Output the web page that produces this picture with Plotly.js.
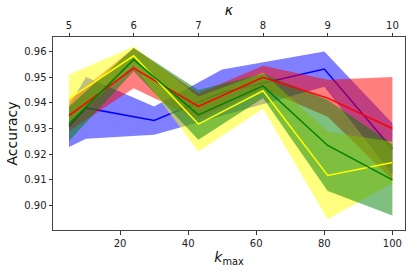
<!DOCTYPE html>
<html>
<head>
<meta charset="utf-8">
<script src="https://cdn.plot.ly/plotly-3.0.1.min.js"></script>
<style>html,body{margin:0;padding:0;background:#fff;}#chart{width:416px;height:271px;}</style>
</head>
<body>
<div id="chart"></div>
<script>
// k_max positions
const kmaxMain = [5, 24, 43, 62, 81, 100];
const kmaxBlue = [5, 10, 30, 50, 80, 100];
const kappaTicks = [5, 6, 7, 8, 9, 10];
const kmaxTicks = [20, 40, 60, 80, 100];
const accTicks = [0.90, 0.91, 0.92, 0.93, 0.94, 0.95, 0.96];

const blueMean = [0.9308, 0.9380, 0.9331, 0.9440, 0.9531, 0.9220];
const blueStd  = [0.0080, 0.0120, 0.0055, 0.0090, 0.0069, 0.0100];
const redMean  = [0.9350, 0.9535, 0.9386, 0.9499, 0.9418, 0.9300];
const redStd   = [0.0060, 0.0078, 0.0050, 0.0045, 0.0072, 0.0200];
const yellowMean = [0.9415, 0.9583, 0.9317, 0.9447, 0.9117, 0.9168];
const yellowStd  = [0.0094, 0.0036, 0.0107, 0.0070, 0.0170, 0.0080];
const greenMean  = [0.9318, 0.9568, 0.9353, 0.9466, 0.9234, 0.9100];
const greenStd   = [0.0067, 0.0045, 0.0097, 0.0047, 0.0177, 0.0139];

function band(xs, m, s, fillcolor) {
  const up = m.map((v, i) => v + s[i]);
  const lo = m.map((v, i) => v - s[i]);
  return {
    x: xs.concat(xs.slice().reverse()),
    y: up.concat(lo.slice().reverse()),
    type: 'scatter', mode: 'lines', fill: 'toself',
    fillcolor: fillcolor, line: {width: 0}, hoverinfo: 'skip', showlegend: false
  };
}
function line(xs, m, color) {
  return {x: xs, y: m, type: 'scatter', mode: 'lines',
          line: {color: color, width: 1.5}, showlegend: false};
}

const traces = [
  band(kmaxBlue, blueMean, blueStd, 'rgba(0,0,255,0.5)'),
  line(kmaxBlue, blueMean, '#0000ff'),
  band(kmaxMain, redMean, redStd, 'rgba(255,0,0,0.5)'),
  band(kmaxMain, yellowMean, yellowStd, 'rgba(255,255,0,0.5)'),
  band(kmaxMain, greenMean, greenStd, 'rgba(0,128,0,0.5)'),
  line(kmaxMain, redMean, '#ff0000'),
  line(kmaxMain, yellowMean, '#ffff00'),
  line(kmaxMain, greenMean, '#008000'),
  {x: kappaTicks, y: kappaTicks.map(() => null), xaxis: 'x2', type: 'scatter',
   mode: 'lines', showlegend: false, hoverinfo: 'skip'}
];

const xr = [0.3, 103.7];
const kap = v => 5 + (v - 5) / 19;
const font = {family: 'DejaVu Sans, sans-serif', size: 10, color: '#222'};

const layout = {
  width: 416, height: 271,
  margin: {l: 53, r: 11, t: 37, b: 41},
  paper_bgcolor: '#fff', plot_bgcolor: '#fff',
  showlegend: false,
  font: font,
  xaxis: {
    range: xr, tickvals: kmaxTicks, ticktext: kmaxTicks.map(String),
    ticks: 'outside', ticklen: 3.5, tickwidth: 1, tickcolor: '#333',
    showgrid: false, zeroline: false, showline: true, linecolor: '#444', linewidth: 1,
    mirror: false, tickfont: font,
    title: {text: '<i>k</i><sub>max</sub>', font: {family: 'DejaVu Sans, sans-serif', size: 14, color: '#111'}, standoff: 4}
  },
  xaxis2: {
    overlaying: 'x', side: 'top', anchor: 'y',
    range: [kap(xr[0]), kap(xr[1])], tickvals: kappaTicks, ticktext: kappaTicks.map(String),
    ticks: 'outside', ticklen: 3.5, tickwidth: 1, tickcolor: '#333',
    showgrid: false, zeroline: false, showline: true, linecolor: '#444', linewidth: 1,
    tickfont: font,
    title: {text: '<i>κ</i>', font: {family: 'DejaVu Sans, sans-serif', size: 14, color: '#111'}, standoff: 0}
  },
  yaxis: {
    range: [0.8905, 0.9656], tickvals: accTicks, ticktext: accTicks.map(v => v.toFixed(2)),
    ticks: 'outside', ticklen: 3.5, tickwidth: 1, tickcolor: '#333',
    showgrid: false, zeroline: false, showline: true, linecolor: '#444', linewidth: 1,
    mirror: true, tickfont: font,
    title: {text: 'Accuracy', font: {family: 'DejaVu Sans, sans-serif', size: 14, color: '#111'}, standoff: 3}
  }
};

Plotly.newPlot('chart', traces, layout, {staticPlot: true, displayModeBar: false});
</script>
</body>
</html>
